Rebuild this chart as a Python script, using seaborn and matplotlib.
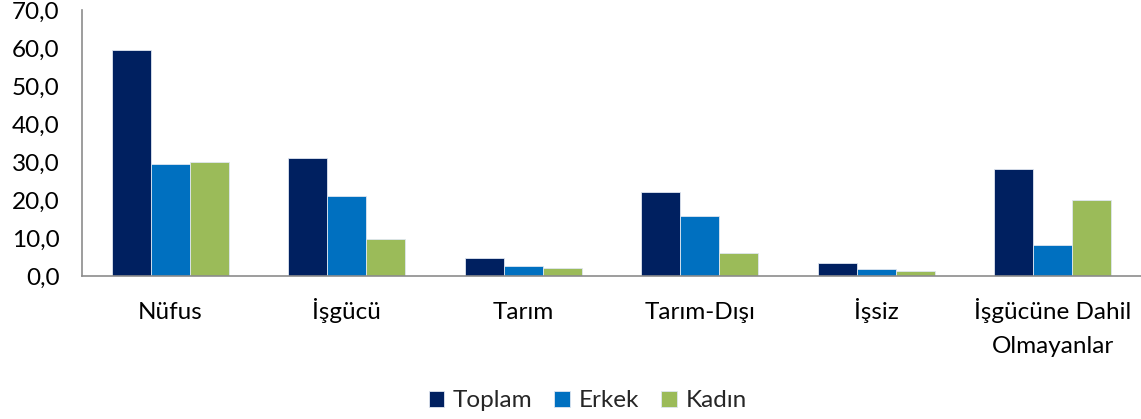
import matplotlib
matplotlib.use("Agg")
import matplotlib.pyplot as plt
import seaborn as sns
import pandas as pd
import numpy as np

categories = ["Nüfus", "İşgücü", "Tarım", "Tarım-Dışı", "İşsiz", "İşgücüne Dahil\nOlmayanlar"]
toplam = [59.6, 31.0, 4.9, 22.2, 3.4, 28.3]
erkek = [29.5, 21.1, 2.7, 15.9, 2.0, 8.1]
kadin = [30.1, 9.8, 2.1, 6.0, 1.3, 20.1]
series_names = ["Toplam", "Erkek", "Kadın"]
colors = ["#002060", "#0070C0", "#9BBB59"]
yticks = [0, 10, 20, 30, 40, 50, 60, 70]

rows = []
for name, vals in zip(series_names, [toplam, erkek, kadin]):
    for c, v in zip(categories, vals):
        rows.append({"Kategori": c, "Seri": name, "Değer": v})
df = pd.DataFrame(rows)

sns.set_theme(style="white")
plt.rcParams["font.family"] = ["Lato", "DejaVu Sans"]

fig = plt.figure(figsize=(11.41, 4.19), dpi=100)
ax = fig.add_axes([0.0719, 0.341, 0.9281, 0.634])

sns.barplot(data=df, x="Kategori", y="Değer", hue="Seri", order=categories,
            hue_order=series_names, palette=colors, saturation=1, width=0.663, gap=0,
            edgecolor="#dfe6f0", linewidth=0.6, ax=ax, legend=True)

FS = 17.5
PAD = 31
ax.set_xlim(-0.5, len(categories) - 0.5)
ax.set_ylim(0, 70)
ax.set_yticks(yticks)
ax.set_yticklabels([f"{t:.1f}".replace(".", ",") for t in yticks], fontsize=FS)
ax.set_xlabel("")
ax.set_ylabel("")
ax.set_xticks(range(len(categories)))
ax.set_xticklabels([c.split("\n")[0] for c in categories])
ax.tick_params(axis="x", which="major", length=0, pad=PAD, labelsize=FS)
for lbl in ax.get_xticklabels():
    lbl.set_verticalalignment("baseline")
# continuation lines of multi-line category labels
for i, c in enumerate(categories):
    for j, line in enumerate(c.split("\n")[1:], start=1):
        ax.annotate(line, xy=(i, 0), xycoords=("data", "axes fraction"),
                    xytext=(0, -(PAD + 24.5 * j)), textcoords="offset points",
                    ha="center", va="baseline", fontsize=FS, color="black")
ax.set_xticks(np.arange(-0.5, len(categories) + 0.5, 1.0), minor=True)
ax.tick_params(axis="x", which="minor", length=8, color="#8c8c8c", width=1.2, direction="out")
ax.tick_params(axis="y", length=8, color="#8c8c8c", width=1.2, direction="out", pad=8)
ax.tick_params(axis="both", labelcolor="black")
for s in ["top", "right"]:
    ax.spines[s].set_visible(False)
for s in ["left", "bottom"]:
    ax.spines[s].set_color("#8c8c8c")
    ax.spines[s].set_linewidth(1.2)

handles, labels = ax.get_legend_handles_labels()
ax.get_legend().remove()
fig.legend(handles, labels, loc="center", bbox_to_anchor=(0.515, 0.043), ncol=3, frameon=False,
           fontsize=FS, handlelength=0.65, handleheight=0.65, handletextpad=0.35,
           columnspacing=0.9)

fig.savefig("out.png", dpi=100)
